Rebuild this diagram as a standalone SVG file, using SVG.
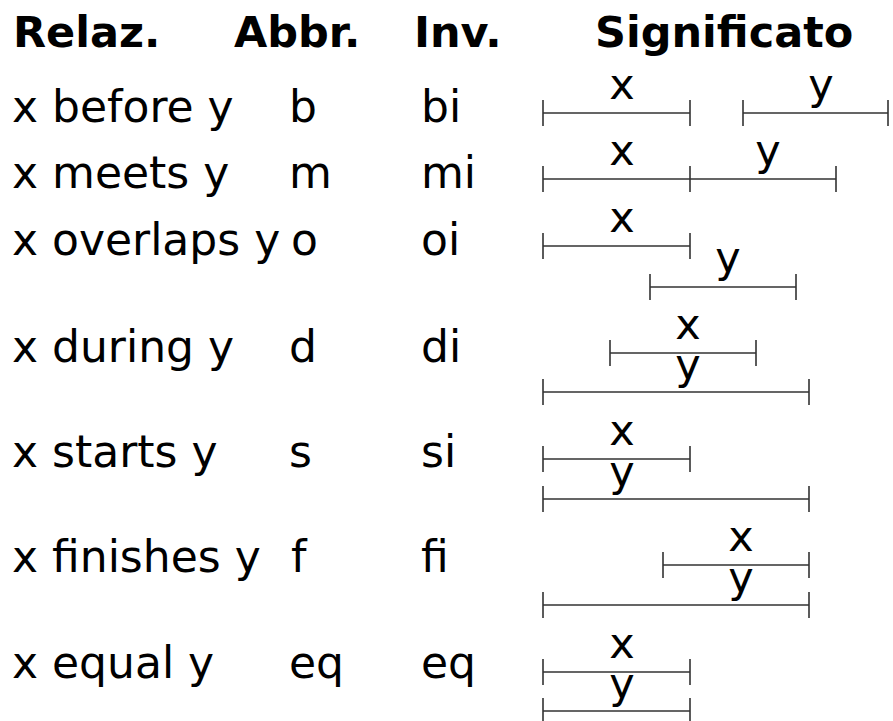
<svg xmlns="http://www.w3.org/2000/svg" width="893" height="721" viewBox="0 0 893 721">
<style>
text{font-family:"DejaVu Sans","Noto Sans",sans-serif;fill:#000}
.h{font-weight:bold;font-size:43px}
.t{font-size:44px}
.l{font-size:43px;text-anchor:middle}
.iv{stroke:#333;stroke-width:1.6;fill:none}
</style>
<rect width="893" height="721" fill="#fff"/>
<g id="header">
<text class="h" x="13" y="47">Relaz.</text>
<text class="h" x="234" y="47">Abbr.</text>
<text class="h" x="414" y="47">Inv.</text>
<text class="h" x="595" y="47">Significato</text>
</g>
<g id="row-before">
<text class="t" x="12" y="122">x before y</text>
<text class="t" x="289" y="122">b</text>
<text class="t" x="421" y="122">bi</text>
<text class="l" x="622" y="99">x</text>
<text class="l" x="821" y="99">y</text>
<path class="iv" d="M543,113H690M543,100V126M690,100V126M743,113H888M743,100V126M888,100V126"/>
</g>
<g id="row-meets">
<text class="t" x="12" y="188">x meets y</text>
<text class="t" x="289" y="188">m</text>
<text class="t" x="421" y="188">mi</text>
<text class="l" x="622" y="165">x</text>
<text class="l" x="768" y="165">y</text>
<path class="iv" d="M543,179H836M543,166V192M690,166V192M836,166V192"/>
</g>
<g id="row-overlaps">
<text class="t" x="12" y="255">x overlaps y</text>
<text class="t" x="291" y="255">o</text>
<text class="t" x="421" y="255">oi</text>
<text class="l" x="622" y="232">x</text>
<text class="l" x="728" y="272">y</text>
<path class="iv" d="M543,246H690M543,233V259M690,233V259M650,287H796M650,274V300M796,274V300"/>
</g>
<g id="row-during">
<text class="t" x="12" y="362">x during y</text>
<text class="t" x="289" y="362">d</text>
<text class="t" x="421" y="362">di</text>
<text class="l" x="688" y="339">x</text>
<text class="l" x="688" y="379">y</text>
<path class="iv" d="M610,353H756M610,340V366M756,340V366M543,392H809M543,379V405M809,379V405"/>
</g>
<g id="row-starts">
<text class="t" x="12" y="467">x starts y</text>
<text class="t" x="289" y="467">s</text>
<text class="t" x="421" y="467">si</text>
<text class="l" x="622" y="445">x</text>
<text class="l" x="622" y="486">y</text>
<path class="iv" d="M543,459H690M543,446V472M690,446V472M543,499H809M543,486V512M809,486V512"/>
</g>
<g id="row-finishes">
<text class="t" x="12" y="572">x finishes y</text>
<text class="t" x="291" y="572">f</text>
<text class="t" x="421" y="572">fi</text>
<text class="l" x="741" y="551">x</text>
<text class="l" x="741" y="592">y</text>
<path class="iv" d="M663,565H809M663,552V578M809,552V578M543,605H809M543,592V618M809,592V618"/>
</g>
<g id="row-equal">
<text class="t" x="12" y="678">x equal y</text>
<text class="t" x="289" y="678">eq</text>
<text class="t" x="421" y="678">eq</text>
<text class="l" x="622" y="658">x</text>
<text class="l" x="622" y="698">y</text>
<path class="iv" d="M543,672H690M543,659V685M690,659V685M543,711H690M543,698V721M690,698V721"/>
</g>
</svg>
